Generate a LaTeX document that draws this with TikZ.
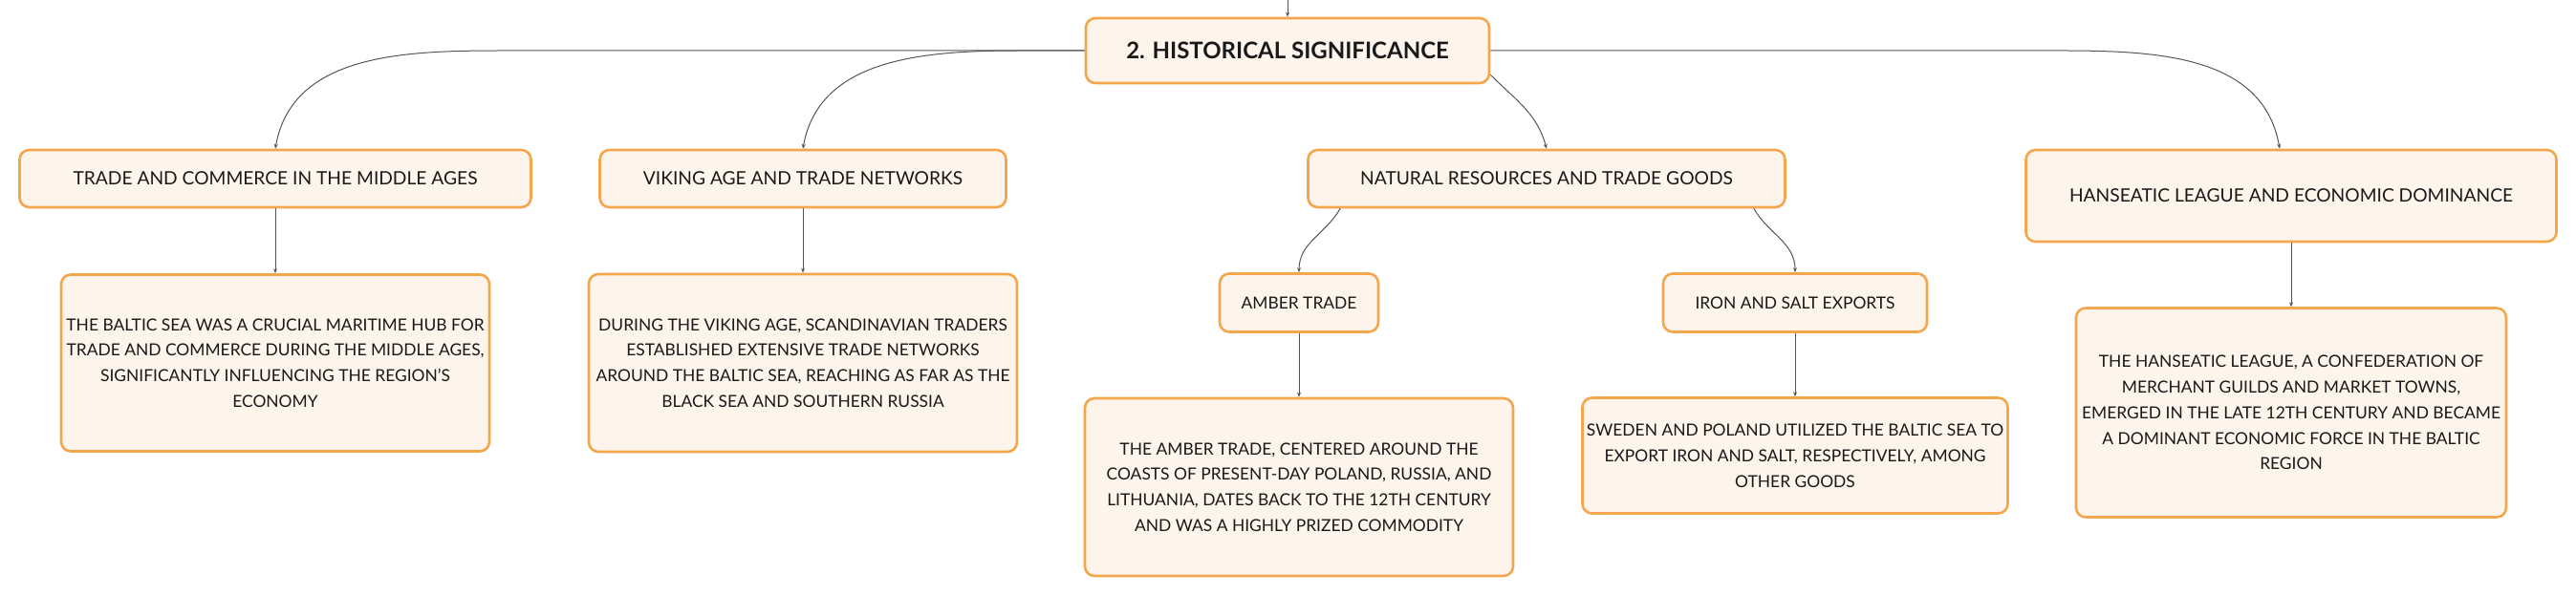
\documentclass[tikz,border=0pt]{standalone}
\usepackage{fontspec}
\setmainfont{Lato}
\usetikzlibrary{arrows.meta}

\definecolor{boxline}{RGB}{244,166,76}
\definecolor{boxfill}{RGB}{253,244,236}
\definecolor{linkgray}{RGB}{85,85,85}

\tikzset{
  topic/.style={shape=rectangle, rounded corners=5pt, draw=boxline, line width=1.3pt, fill=boxfill, inner sep=0pt, align=center, text=black!90, font=\fontsize{9.6}{13.5}\selectfont},
  note/.style={topic, font=\fontsize{8.7}{13.4}\selectfont},
  link/.style={draw=linkgray, line width=0.5pt}
}

\begin{document}
\begin{tikzpicture}[>={Stealth[length=2.5pt,width=2pt]}]
\useasboundingbox (0,0) rectangle (1347.5pt,-312pt);
\node [topic, minimum width=211pt, minimum height=34pt, font=\fontsize{12}{14}\selectfont\bfseries] (N0) at (673.5pt,-26.5pt) {2. HISTORICAL SIGNIFICANCE};
\coordinate [above of=N0, node distance=26.5pt] (up);
\node [topic, minimum width=267.5pt, minimum height=30pt] (N1) at (144pt,-93.5pt) {TRADE AND COMMERCE IN THE MIDDLE AGES};
\node [topic, right of=N1, node distance=276pt, minimum width=212.5pt, minimum height=30pt] (N2) {VIKING AGE AND TRADE NETWORKS};
\node [topic, right of=N2, node distance=389pt, minimum width=249.5pt, minimum height=30pt] (N3) {NATURAL RESOURCES AND TRADE GOODS};
\node [topic, right of=N3, node distance=389.5pt, yshift=-9pt, minimum width=277.5pt, minimum height=48pt] (N4) {HANSEATIC LEAGUE AND ECONOMIC DOMINANCE};
\node [note, below of=N3, node distance=65pt, xshift=-129.5pt, minimum width=83pt, minimum height=30.5pt] (N5) {AMBER TRADE};
\node [note, below of=N3, node distance=65pt, xshift=130pt, minimum width=138pt, minimum height=30.5pt] (N6) {IRON AND SALT EXPORTS};
\node [note, below of=N1, node distance=96.5pt, minimum width=224pt, minimum height=92.5pt] (N7) {THE BALTIC SEA WAS A CRUCIAL MARITIME HUB FOR\\TRADE AND COMMERCE DURING THE MIDDLE AGES,\\SIGNIFICANTLY INFLUENCING THE REGION'S\\ECONOMY};
\node [note, below of=N2, node distance=96.5pt, minimum width=224pt, minimum height=93pt] (N8) {DURING THE VIKING AGE, SCANDINAVIAN TRADERS\\ESTABLISHED EXTENSIVE TRADE NETWORKS\\AROUND THE BALTIC SEA, REACHING AS FAR AS THE\\BLACK SEA AND SOUTHERN RUSSIA};
\node [note, below of=N5, node distance=96.5pt, minimum width=224pt, minimum height=93pt] (N9) {THE AMBER TRADE, CENTERED AROUND THE\\COASTS OF PRESENT-DAY POLAND, RUSSIA, AND\\LITHUANIA, DATES BACK TO THE 12TH CENTURY\\AND WAS A HIGHLY PRIZED COMMODITY};
\node [note, below of=N6, node distance=80pt, minimum width=222.5pt, minimum height=60.5pt] (N10) {SWEDEN AND POLAND UTILIZED THE BALTIC SEA TO\\EXPORT IRON AND SALT, RESPECTIVELY, AMONG\\OTHER GOODS};
\node [note, below of=N4, node distance=113.5pt, minimum width=225pt, minimum height=109.5pt] (N11) {THE HANSEATIC LEAGUE, A CONFEDERATION OF\\MERCHANT GUILDS AND MARKET TOWNS,\\EMERGED IN THE LATE 12TH CENTURY AND BECAME\\A DOMINANT ECONOMIC FORCE IN THE BALTIC\\REGION};

\draw[->, link] (up) -- (N0);
\draw[->, link] (N0.west) -- ++(-302.5pt,0) to [out=180, in=80] (N1.north);
\draw[->, link] (N0.west) -- ++(-33pt,0) to [out=180, in=80] (N2.north);
\draw[->, link] ([yshift=5pt]N0.south east) to [out=-45, in=105] (N3.north);
\draw[->, link] (N0.east) -- ++(284.5pt,0) to [out=0, in=100] ([xshift=-6pt]N4.north);
\draw[->, link] (N1) -- (N7);
\draw[->, link] (N2) -- (N8);
\draw[->, link] ([xshift=17.5pt]N3.south west) to [out=-120, in=90] (N5.north);
\draw[->, link] ([xshift=-17pt]N3.south east) to [out=-60, in=90] (N6.north);
\draw[->, link] (N5) -- (N9);
\draw[->, link] (N6) -- (N10);
\draw[->, link] (N4) -- (N11);
\end{tikzpicture}
\end{document}
